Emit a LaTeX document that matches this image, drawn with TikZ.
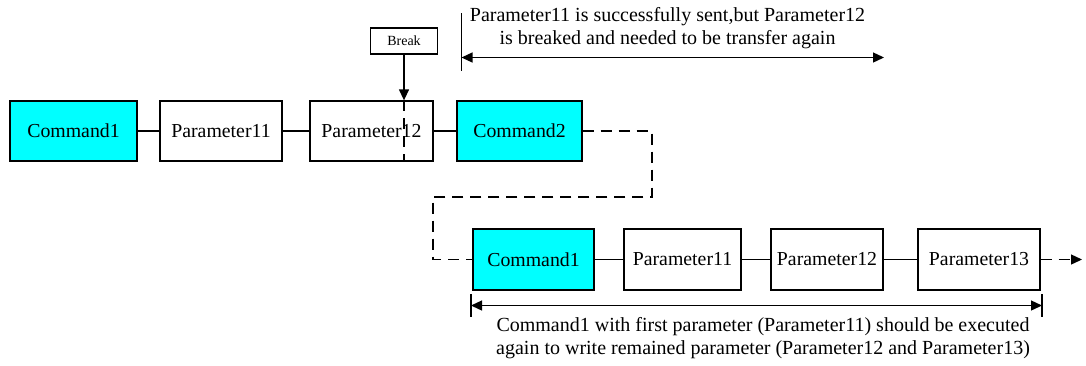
\documentclass[tikz,border=0pt]{standalone}
\usepackage{fontspec}
\setmainfont{Liberation Serif}
\usetikzlibrary{arrows.meta}
\definecolor{boxcyan}{RGB}{0,255,255}
\tikzset{
  blk/.style={draw=black, line width=1.3pt, inner sep=0pt, minimum height=60pt, font=\fontsize{19.8}{22}\selectfont},
  cmd/.style={blk, fill=boxcyan},
  par/.style={blk, fill=white},
  conn/.style={line width=1.3pt},
  dconn/.style={line width=1.3pt, dash pattern=on 11pt off 7pt},
  tip/.style={-{Triangle[length=11pt,width=10pt]}},
  dtip/.style={{Triangle[length=11pt,width=10pt]}-{Triangle[length=11pt,width=10pt]}},
  note/.style={align=center, font=\fontsize{20}{23}\selectfont, inner sep=0pt}
}
\begin{document}
\begin{tikzpicture}[x=1pt,y=-1pt]
\useasboundingbox (0,0) rectangle (1086,365);
% row 1
\node[cmd, minimum width=127pt] (a1) at (73.5,131) {Command1};
\node[par, minimum width=122pt] (a2) at (221,131) {Parameter11};
\node[par, minimum width=123pt] (a3) at (371.5,131) {Parameter12};
\node[cmd, minimum width=125pt] (a4) at (519.5,131) {Command2};
\draw[conn] (a1) -- (a2);
\draw[conn] (a2) -- (a3);
\draw[conn] (a3) -- (a4);
% row 2
\node[cmd, minimum width=121pt, minimum height=61pt] (b1) at (533.5,259.5) {Command1};
\node[par, minimum width=117pt, minimum height=61pt] (b2) at (682.5,259.5) {Parameter11};
\node[par, minimum width=112pt, minimum height=61pt] (b3) at (827,259.5) {Parameter12};
\node[par, minimum width=122pt, minimum height=61pt] (b4) at (979,259.5) {Parameter13};
\draw[conn] (b1) -- (b2);
\draw[conn] (b2) -- (b3);
\draw[conn] (b3) -- (b4);
% dashed link between rows
\coordinate (d1) at (652,197);
\coordinate (d2) at (433,197);
\draw[dconn] (a4.east) -| (d1) -- (d2) |- (b1.west);
\coordinate (e1) at (1082,259.5);
\draw[dconn, tip] (b4.east) -- (e1);
% break
\node[draw, line width=1.3pt, minimum width=67pt, minimum height=26pt, inner sep=0pt, font=\fontsize{14}{16}\selectfont] (brk) at (404,41) {Break};
\coordinate (k1) at (brk.south |- a3.north);
\coordinate (k2) at (brk.south |- a3.south);
\draw[conn, tip] (brk.south) -- (k1);
\draw[dconn] (k1) -- (k2);
% top dimension
\coordinate (t1) at (461.5,13);
\coordinate (t2) at (461.5,71);
\coordinate (t3) at (461.5,57.5);
\coordinate (t4) at (884,57.5);
\draw[conn] (t1) -- (t2);
\draw[conn, dtip] (t3) -- (t4);
\node[note] (topnote) at (667.5,28.5) {Parameter11 is successfully sent,but Parameter12\\is breaked and needed to be transfer again};
% bottom dimension
\coordinate (u1) at (471,294);
\coordinate (u2) at (471,317);
\coordinate (u3) at (1042,294);
\coordinate (u4) at (1042,317);
\coordinate (u5) at (471,305.5);
\coordinate (u6) at (1042,305.5);
\draw[conn] (u1) -- (u2);
\draw[conn] (u3) -- (u4);
\draw[conn, dtip] (u5) -- (u6);
\node[note] (botnote) at (763,338) {Command1 with first parameter (Parameter11) should be executed\\again to write remained parameter (Parameter12 and Parameter13)};
\end{tikzpicture}
\end{document}
